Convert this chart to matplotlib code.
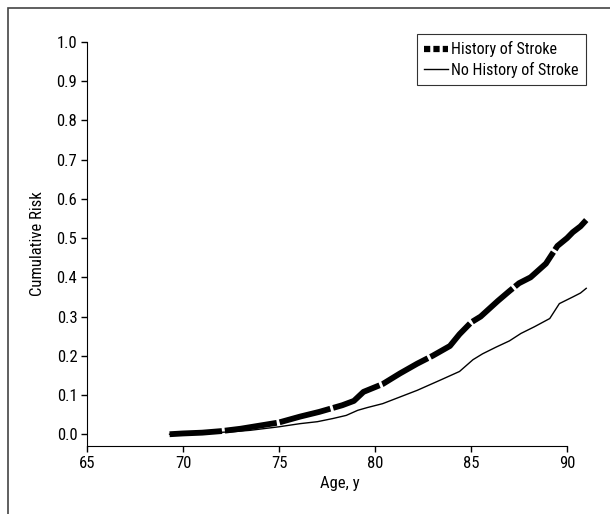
import matplotlib
matplotlib.use("Agg")
import matplotlib.pyplot as plt
from matplotlib.lines import Line2D
from matplotlib.patches import Rectangle

plt.rcParams['font.family'] = ['Roboto Condensed', 'Liberation Sans', 'DejaVu Sans']

# history of stroke (thick dashed curve)
age_stroke = [69.3, 70.0, 71.0, 72.0, 73.0, 74.0, 75.0, 76.1, 77.1, 78.3, 78.9,
              79.4, 80.4, 81.3, 82.2, 83.0, 83.9, 84.4, 85.0, 85.5, 86.4, 87.0,
              87.5, 88.1, 88.9, 89.5, 90.0, 90.3, 90.7, 91.0]
risk_stroke = [0.0, 0.002, 0.004, 0.008, 0.014, 0.022, 0.030, 0.045, 0.057, 0.074, 0.085,
               0.108, 0.128, 0.155, 0.180, 0.200, 0.225, 0.255, 0.285, 0.300, 0.340, 0.365,
               0.385, 0.400, 0.435, 0.480, 0.500, 0.515, 0.530, 0.546]

# no history of stroke (thin line)
age_none = [69.3, 70.5, 71.5, 72.5, 73.5, 75.0, 76.1, 77.0, 77.8, 78.5, 79.1, 79.6,
            80.4, 81.3, 82.2, 83.4, 84.4, 85.1, 85.6, 86.3, 87.0, 87.6, 88.3, 89.1,
            89.6, 90.3, 90.7, 91.0]
risk_none = [0.0, 0.002, 0.004, 0.006, 0.010, 0.019, 0.027, 0.032, 0.040, 0.048, 0.061, 0.068,
             0.078, 0.095, 0.112, 0.138, 0.160, 0.190, 0.205, 0.222, 0.238, 0.257, 0.274, 0.295,
             0.333, 0.350, 0.360, 0.372]

xticks = [65, 70, 75, 80, 85, 90]
yticks = [0.0, 0.1, 0.2, 0.3, 0.4, 0.5, 0.6, 0.7, 0.8, 0.9, 1.0]

fig = plt.figure(figsize=(6.1, 5.14), dpi=100)
ax = fig.add_axes([87/610, 68/514, 505/610, 404/514])

ax.plot(age_none, risk_none, color='black', lw=1.0)
ax.plot(age_stroke, risk_stroke, color='black', lw=4.2, dashes=(9, 0.5),
        solid_capstyle='butt', dash_capstyle='butt')

ax.set_xlim(65, 91.3)
ax.set_ylim(-0.03, 1.0)
ax.set_xticks(xticks)
ax.set_yticks(yticks)
ax.set_yticklabels(['%.1f' % v for v in yticks])
ax.spines['top'].set_visible(False)
ax.spines['right'].set_visible(False)
ax.spines['bottom'].set_bounds(65, 90)
ax.spines['left'].set_bounds(-0.03, 1.0)
ax.tick_params(direction='out', length=4, width=1, labelsize=12, pad=3)
ax.set_xlabel('Age, y', fontsize=12, labelpad=4)
ax.set_ylabel('Cumulative Risk', fontsize=12, labelpad=8)

handles = [Line2D([], [], color='black', lw=4.5, dashes=(1.0, 0.5), dash_capstyle='butt'),
           Line2D([], [], color='black', lw=1.0)]
leg = fig.legend(handles, ['History of Stroke', 'No History of Stroke'],
                 loc='upper right', bbox_to_anchor=(594/610, 1 - 26/514),
                 fontsize=11.5, frameon=True, fancybox=False, handlelength=1.5,
                 handletextpad=0.2, borderpad=0.45, labelspacing=0.3)
leg.get_frame().set_edgecolor('black')
leg.get_frame().set_linewidth(0.8)

fig.patches.append(Rectangle((8/610, -0.1), 1.5, 1 - 8/514 + 0.1, transform=fig.transFigure,
                             fill=False, edgecolor='#444444', lw=1.2))

fig.savefig('out.png', dpi=100)
